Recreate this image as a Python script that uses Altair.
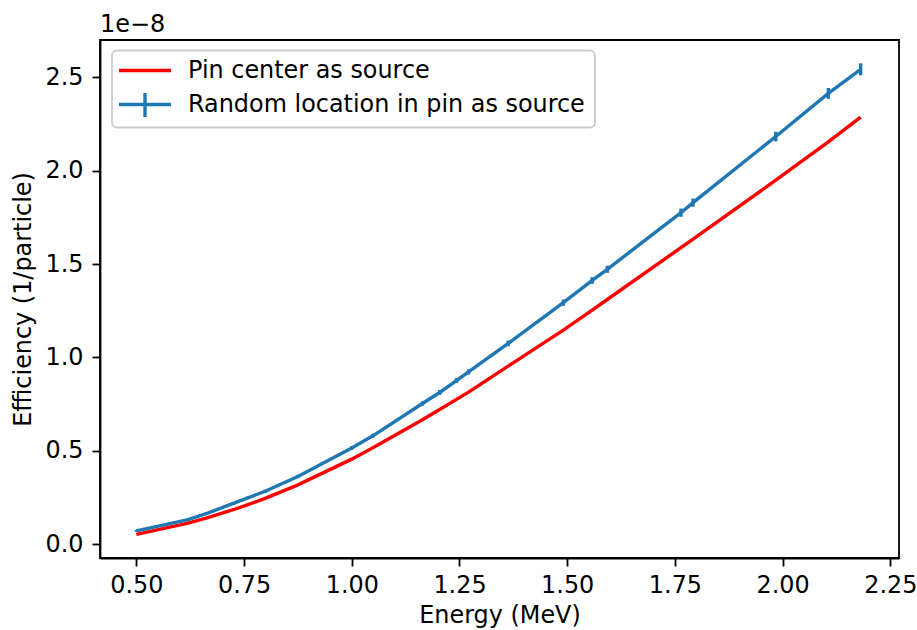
import altair as alt
import pandas as pd

# Energies (MeV) of the simulated lines
energy = [0.500, 0.618, 0.664, 0.725, 0.759, 0.799, 0.875, 1.000, 1.049, 1.164, 1.204,
          1.243, 1.271, 1.363, 1.491, 1.558, 1.593, 1.764, 1.792, 1.984, 2.106, 2.181]
# Efficiency, in units of 1e-8 per particle
random_loc = [0.071, 0.130, 0.165, 0.218, 0.248, 0.283, 0.362, 0.515, 0.580, 0.753, 0.812,
              0.876, 0.922, 1.075, 1.293, 1.412, 1.472, 1.775, 1.829, 2.183, 2.414, 2.543]
random_err = [0.005, 0.006, 0.006, 0.007, 0.007, 0.008, 0.009, 0.010, 0.011, 0.012, 0.013,
              0.013, 0.014, 0.015, 0.017, 0.018, 0.019, 0.022, 0.022, 0.026, 0.029, 0.032]
pin_center = [0.052, 0.111, 0.141, 0.184, 0.211, 0.245, 0.317, 0.455, 0.516, 0.666, 0.721,
              0.775, 0.814, 0.953, 1.146, 1.253, 1.310, 1.588, 1.634, 1.949, 2.154, 2.287]

x_ticks = [0.50, 0.75, 1.00, 1.25, 1.50, 1.75, 2.00, 2.25]
y_ticks = [0.0, 0.5, 1.0, 1.5, 2.0, 2.5]

df = pd.DataFrame({
    "energy": energy,
    "random": random_loc,
    "lo": [v - e for v, e in zip(random_loc, random_err)],
    "hi": [v + e for v, e in zip(random_loc, random_err)],
    "center": pin_center,
})

FONT = "DejaVu Sans"
FS = 23.9
BLUE = "#1f77b4"
RED = "#ff0000"
LW = 3.4

x_scale = alt.Scale(domain=[0.4157, 2.270], nice=False, zero=False)
y_scale = alt.Scale(domain=[-0.0745, 2.70], nice=False, zero=False)

x_axis = alt.Axis(values=x_ticks, format=".2f", title="Energy (MeV)", grid=False,
                  tickSize=8, tickWidth=1.8, labelPadding=7, titleY=45, titleBaseline="top")
y_axis = alt.Axis(values=y_ticks, format=".1f", title="Efficiency (1/particle)", grid=False,
                  tickSize=8, tickWidth=1.8, labelPadding=9, titleX=-77, titleY=259,
                  titleAngle=270, titleBaseline="middle", titleAlign="center")

X = alt.X("energy:Q", scale=x_scale, axis=x_axis)

base = alt.Chart(df)

red_line = base.mark_line(color=RED, strokeWidth=LW).encode(
    x=X, y=alt.Y("center:Q", scale=y_scale, axis=y_axis))
blue_line = base.mark_line(color=BLUE, strokeWidth=LW).encode(
    x=X, y=alt.Y("random:Q", scale=y_scale, axis=y_axis))
err_bars = base.mark_rule(color=BLUE, strokeWidth=LW).encode(
    x=X, y=alt.Y("lo:Q", scale=y_scale, axis=y_axis), y2="hi:Q")

one = alt.Data(values=[{"k": 1}])

offset_text = alt.Chart(one).mark_text(
    text="1e\u22128", font=FONT, fontSize=FS, align="left", baseline="alphabetic", color="black"
).encode(x=alt.value(0), y=alt.value(-8.5))

legend_box = alt.Chart(one).mark_rect(
    fill="white", fillOpacity=0.8, stroke="#cccccc", strokeWidth=1.8, cornerRadius=5
).encode(x=alt.value(12), x2=alt.value(495), y=alt.value(10.5), y2=alt.value(87.5))

leg_red = alt.Chart(one).mark_rule(color=RED, strokeWidth=LW).encode(
    x=alt.value(19), x2=alt.value(71), y=alt.value(30.5))
leg_blue = alt.Chart(one).mark_rule(color=BLUE, strokeWidth=LW).encode(
    x=alt.value(19), x2=alt.value(71), y=alt.value(64.5))
leg_blue_err = alt.Chart(one).mark_rule(color=BLUE, strokeWidth=LW).encode(
    x=alt.value(45), y=alt.value(53), y2=alt.value(77))
leg_t1 = alt.Chart(one).mark_text(
    text="Pin center as source", font=FONT, fontSize=FS, align="left", baseline="middle",
    color="black").encode(x=alt.value(88), y=alt.value(31))
leg_t2 = alt.Chart(one).mark_text(
    text="Random location in pin as source", font=FONT, fontSize=FS, align="left",
    baseline="middle", color="black").encode(x=alt.value(88), y=alt.value(65))

chart = alt.layer(
    red_line, blue_line, err_bars, offset_text,
    legend_box, leg_red, leg_blue, leg_blue_err, leg_t1, leg_t2
).properties(
    width=799, height=518,
    autosize=alt.AutoSizeParams(type="none"),
    padding={"left": 100, "top": 40, "right": 18, "bottom": 72},
    background="white",
).configure_view(
    stroke="black", strokeWidth=1.8
).configure_axis(
    domainColor="black", domainWidth=1.8, tickColor="black",
    labelFont=FONT, labelFontSize=FS, labelColor="black",
    titleFont=FONT, titleFontSize=FS, titleColor="black", titleFontWeight="normal",
    labelFlush=False, labelOverlap=False,
)

chart.save("out.html", embed_options={"renderer": "svg", "actions": False})
